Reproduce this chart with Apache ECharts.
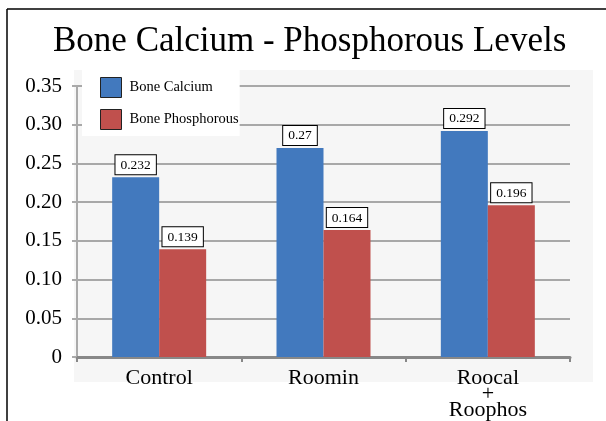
<!DOCTYPE html>
<html>
<head>
<meta charset="utf-8">
<script src="https://cdn.jsdelivr.net/npm/echarts@6/dist/echarts.min.js"></script>
<style>
html, body { margin: 0; padding: 0; background: #fff; }
#main { width: 606px; height: 421px; }
</style>
</head>
<body>
<div id="main"></div>
<script>
var categories = ['Control', 'Roomin', 'Roocal\n+\nRoophos'];
var calcium = [0.232, 0.27, 0.292];
var phosphorous = [0.139, 0.164, 0.196];
var yTicks = [0, 0.05, 0.10, 0.15, 0.20, 0.25, 0.30, 0.35];

var dom = document.getElementById('main');
var myChart = echarts.init(dom, null, { renderer: 'canvas' });

var serif = 'Liberation Serif, Times New Roman, serif';

var barLabel = {
    show: true,
    position: 'top',
    distance: 3,
    fontFamily: serif,
    fontSize: 13.5,
    color: '#000',
    backgroundColor: '#fff',
    borderColor: '#000',
    borderWidth: 1,
    padding: [3, 5, 2, 5]
};

var option = {
    animation: false,
    backgroundColor: '#fff',
    title: {
        text: 'Bone Calcium - Phosphorous Levels',
        left: 48,
        top: 19,
        textStyle: { fontFamily: serif, fontSize: 35, fontWeight: 'normal', color: '#000' }
    },
    graphic: [
        // frame lines
        { type: 'line', shape: { x1: 7, y1: 9, x2: 606, y2: 9 }, style: { stroke: '#000', lineWidth: 1.5 }, z: -1 },
        { type: 'line', shape: { x1: 7, y1: 9, x2: 7, y2: 421 }, style: { stroke: '#000', lineWidth: 1.5 }, z: -1 },
        // plot area background
        { type: 'rect', shape: { x: 74, y: 70, width: 519, height: 312 }, style: { fill: '#f6f6f6' }, z: -10, silent: true }
    ],
    legend: {
        orient: 'vertical',
        left: 82,
        top: 70,
        padding: [7, 1, 6, 18],
        backgroundColor: '#fff',
        itemWidth: 21,
        itemHeight: 20,
        itemGap: 11,
        icon: 'rect',
        itemStyle: { borderColor: '#222', borderWidth: 1 },
        textStyle: { fontFamily: serif, fontSize: 14.5, color: '#000', padding: [0, 0, 0, 3] },
        data: ['Bone Calcium', 'Bone Phosphorous']
    },
    grid: { left: 77, right: 36, top: 86, bottom: 63 },
    xAxis: {
        type: 'category',
        data: categories,
        axisLine: { show: true, lineStyle: { color: '#888', width: 3 } },
        axisTick: { show: true, length: 5, lineStyle: { color: '#888', width: 2 } },
        axisLabel: {
            fontFamily: serif,
            fontSize: 22,
            lineHeight: 16,
            color: '#000',
            margin: 13
        }
    },
    yAxis: {
        type: 'value',
        min: 0,
        max: 0.35,
        interval: 0.05,
        axisLine: { show: true, lineStyle: { color: '#aaa', width: 2 } },
        axisTick: { show: true, length: 5, lineStyle: { color: '#aaa', width: 2 } },
        splitLine: { show: true, lineStyle: { color: '#a8a8a8', width: 2 } },
        axisLabel: {
            fontFamily: serif,
            fontSize: 21,
            color: '#000',
            margin: 15,
            formatter: function (v) {
                var i = yTicks.findIndex(function (t) { return Math.abs(t - v) < 1e-9; });
                return i === 0 ? '0' : yTicks[i].toFixed(2);
            }
        }
    },
    series: [
        {
            name: 'Bone Calcium',
            type: 'bar',
            barWidth: 47,
            barGap: '0%',
            color: '#4279be',
            data: calcium,
            label: barLabel
        },
        {
            name: 'Bone Phosphorous',
            type: 'bar',
            barWidth: 47,
            barGap: '0%',
            color: '#c0504d',
            data: phosphorous,
            label: barLabel
        }
    ]
};

myChart.setOption(option);
window.addEventListener('resize', myChart.resize);
</script>
</body>
</html>
